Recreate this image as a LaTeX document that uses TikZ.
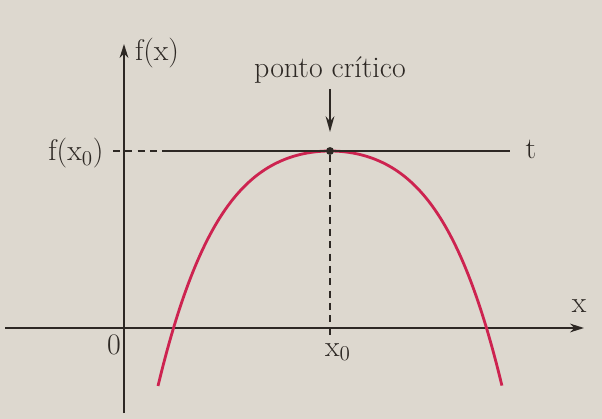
\documentclass[tikz,border=0pt]{standalone}
\usetikzlibrary{arrows.meta}
\definecolor{paper}{RGB}{221,216,207}
\definecolor{ink}{RGB}{45,40,36}
\definecolor{crimson}{RGB}{205,35,80}
\begin{document}
\begin{tikzpicture}[x=0.02cm,y=-0.02cm,
    font=\fontsize{17}{20}\selectfont,
    axis/.style={draw=ink,line width=1.1pt,-{Stealth[length=8pt,width=5pt]}},
    guide/.style={draw=ink,line width=1pt,dash pattern=on 4pt off 3pt},
    tline/.style={draw=ink,line width=1.1pt},
    curve/.style={draw=crimson,line width=1.6pt},
    pointer/.style={draw=ink,line width=1pt,-{Stealth[length=9pt,width=5pt]}},
    lbl/.style={text=ink,inner sep=0pt}
]
    \fill[paper] (0,0) rectangle (602,419);
    \useasboundingbox (0,0) rectangle (602,419);

    % axes
    \coordinate (xa0) at (5,328);
    \coordinate (xa1) at (584,328);
    \coordinate (ya0) at (124,413);
    \coordinate (ya1) at (124,44);
    \draw[axis] (xa0) -- (xa1);
    \draw[axis] (ya0) -- (ya1);

    % curve
    \draw[curve] plot[domain=-1.72:1.72,samples=120,smooth]
        ({330+100*\x},{151+38*\x*\x+14*\x*\x*\x*\x});

    % tangent t and guides
    \node[circle,fill=ink,inner sep=0pt,minimum size=4.5pt] (top) at (330,151) {};
    \coordinate (g0) at (113,151);
    \coordinate (t0) at (163,151);
    \coordinate (t1) at (510,151);
    \coordinate (foot) at (330,336);
    \draw[guide] (g0) -- (t0);
    \draw[tline] (t0) -- (t1);
    \draw[guide] (top) -- (foot);

    % labels
    \node[lbl] (fx) at (157,53) {f(x)};
    \node[lbl] (fx0) at (76,153) {f(x$_0$)};
    \node[lbl] (tl) at (531,149) {t};
    \node[lbl] (xl) at (579,306) {x};
    \node[lbl] (orig) at (114,345) {0};
    \node[lbl] (x0) at (338,352) {x$_0$};
    \node[lbl] (pc) at (330,70) {ponto crítico};
    \coordinate (tip) at (330,132);
    \draw[pointer,shorten <=3pt] (pc) -- (tip);
\end{tikzpicture}
\end{document}
